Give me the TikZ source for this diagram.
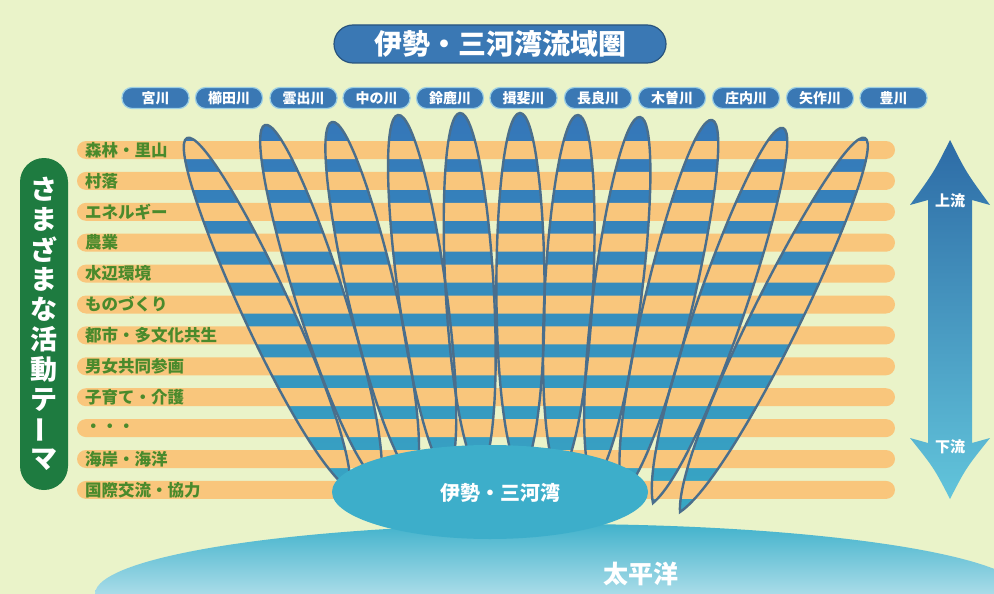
\documentclass[tikz,border=0pt]{standalone}
\usepackage{fontspec}
\usepackage{graphicx}
\newfontfamily\jp{Noto Sans CJK JP}
\usetikzlibrary{calc}
\definecolor{bg}{HTML}{EAF3C9}
\definecolor{barc}{HTML}{F9C67C}
\definecolor{pillblue}{HTML}{3A78B4}
\definecolor{pillrim}{HTML}{9CCFE4}
\definecolor{leafline}{HTML}{4A6E8C}
\definecolor{leaftop}{HTML}{3575B8}
\definecolor{leafbot}{HTML}{37A8C4}
\definecolor{baycol}{HTML}{3DAECA}
\definecolor{oceantop}{HTML}{3FB1CB}
\definecolor{oceanbot}{HTML}{A9DCE8}
\definecolor{tgreen}{HTML}{1E7B40}
\definecolor{lblgreen}{HTML}{4A8A2C}
\definecolor{arrtop}{HTML}{2D6BA6}
\definecolor{arrbot}{HTML}{62C5DB}
\tikzset{
  riverpill/.style={draw=pillrim, line width=1.2pt, fill=pillblue, rounded corners=10pt,
    minimum width=67pt, minimum height=21pt, inner sep=0pt, text=white,
    font=\jp\bfseries\fontsize{14}{14}\selectfont},
  titlepill/.style={draw=pillblue!70!black, line width=1.2pt, fill=pillblue, rounded corners=19pt,
    minimum width=332pt, minimum height=38pt, inner sep=0pt, text=white,
    font=\jp\bfseries\fontsize{28}{28}\selectfont},
  themelbl/.style={anchor=west, inner sep=0pt, text=lblgreen,
    font=\jp\bfseries\fontsize{16.5}{16.5}\selectfont},
  whitelbl/.style={inner sep=0pt, text=white, font=\jp\bfseries},
  leafedge/.style={draw=leafline, line width=2.4pt},
}
\begin{document}
\begin{tikzpicture}[x=1pt,y=-1pt]
\useasboundingbox (0,0) rectangle (994,594);
\fill[bg] (0,0) rectangle (994,594);

% leaf end points
\foreach \i/\bx/\by/\tx/\ty in {
  1/350/490/187/138, 2/380/486/265/125, 3/415/482/332/122, 4/448/480/398/115,
  5/480/478/460/113, 6/521/478/520/113, 7/559/480/578/115, 8/593/486/640/117,
  9/623/494/712/120, 10/653/503/783/128, 11/680/512/865/138}
{ \coordinate (B\i) at (\bx,\by); \coordinate (T\i) at (\tx,\ty); }

% leaf fills
\begin{scope}
\clip \foreach \i in {1,...,11}{
  (B\i) .. controls ($(B\i)!.15!(T\i)!36pt!90:(T\i)$) and ($(T\i)!28pt!-90:(B\i)$) .. (T\i)
        .. controls ($(T\i)!28pt!90:(B\i)$) and ($(B\i)!.15!(T\i)!36pt!-90:(T\i)$) .. (B\i) -- cycle };
\shade[top color=leaftop, bottom color=leafbot] (150,105) rectangle (900,520);
\end{scope}

% theme bars and labels
\foreach \lab [count=\n from 0] in {森林・里山, 村落, エネルギー, 農業, 水辺環境, ものづくり,
  都市・多文化共生, 男女共同参画, 子育て・介護, ・・・, 海岸・海洋, 国際交流・協力}
{
  \pgfmathsetmacro\yy{150+30.9*\n}
  \fill[barc, rounded corners=9pt] (77,\yy-9) rectangle (895,\yy+9);
  \node[themelbl] (th\n) at (85,\yy) {\lab};
}

% leaf outlines
\foreach \i in {1,...,11}{
  \draw[leafedge] (B\i) .. controls ($(B\i)!.15!(T\i)!36pt!90:(T\i)$) and ($(T\i)!28pt!-90:(B\i)$) .. (T\i)
        .. controls ($(T\i)!28pt!90:(B\i)$) and ($(B\i)!.15!(T\i)!36pt!-90:(T\i)$) .. (B\i) -- cycle;
}

% ocean
\begin{scope}
\clip (560,594) ellipse [x radius=465pt, y radius=70pt];
\shade[top color=oceantop, bottom color=oceanbot] (0,522) rectangle (994,594);
\end{scope}
% bay
\fill[baycol] (490,492) ellipse [x radius=158pt, y radius=47pt];
\node[whitelbl, font=\jp\bfseries\fontsize{20}{20}\selectfont] (bay) at (500,493) {伊勢・三河湾};
\node[whitelbl, font=\jp\bfseries\fontsize{25}{25}\selectfont] (ocean) at (641,574) {太平洋};

% title
\node[titlepill] (title) at (500,44) {伊勢・三河湾流域圏};

% river pills
\foreach \x/\r [count=\n] in {155.5/宮川, 229/櫛田川, 303.5/雲出川, 376.5/中の川, 450/鈴鹿川,
  523.5/揖斐川, 598/長良川, 672/木曽川, 746/庄内川, 820/矢作川, 893.5/豊川}
{ \node[riverpill] (river\n) at (\x,98) {\r}; }

% green vertical pill
\fill[tgreen, rounded corners=24pt] (20,158) rectangle (68,490);
\foreach \c [count=\n from 0] in {さ,ま,ざ,ま,な,活,動,テ,{\rotatebox[origin=c]{90}{ー}},マ}
{ \node[whitelbl, font=\jp\bfseries\fontsize{27}{27}\selectfont] (vt\n) at (44,189+30.1*\n) {\c}; }

% up/down arrow
\shade[top color=arrtop, bottom color=arrbot]
  (950,140) .. controls (966,172) .. (990,205) -- (972,200) -- (972,443) -- (990,438)
  .. controls (966,468) .. (950,499) .. controls (934,468) .. (910,438) -- (928,443)
  -- (928,200) -- (910,205) .. controls (934,172) .. (950,140) -- cycle;
\node[whitelbl, font=\jp\bfseries\fontsize{15}{15}\selectfont] (up) at (950,201) {上流};
\node[whitelbl, font=\jp\bfseries\fontsize{15}{15}\selectfont] (down) at (950,447) {下流};
\end{tikzpicture}
\end{document}
